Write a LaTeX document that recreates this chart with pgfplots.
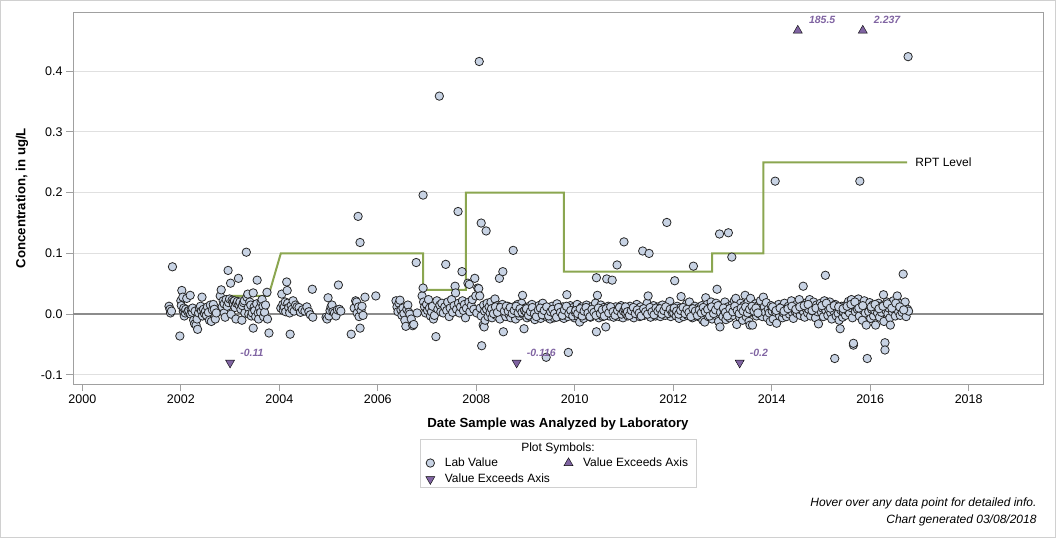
\documentclass[border=0pt]{standalone}
\usepackage{fontspec}
\setmainfont{Liberation Sans}
\usepackage{pgfplots}
\pgfplotsset{compat=1.18}

\definecolor{labfill}{RGB}{200,211,228}
\definecolor{exceed}{RGB}{128,100,162}
\definecolor{rptgreen}{RGB}{139,166,80}
\definecolor{gridgray}{RGB}{224,224,224}
\definecolor{framegray}{RGB}{160,160,160}
\definecolor{zerogray}{RGB}{140,140,140}
\definecolor{outergray}{RGB}{208,208,208}

\begin{document}
\begin{tikzpicture}
\begin{axis}[
  width=970pt, height=371.7pt, scale only axis,
  xmin=1999.81, xmax=2019.51, ymin=-0.115, ymax=0.497,
  axis line style={framegray, line width=1pt},
  xtick={2000,2002,...,2018},
  ytick={-0.1,0,0.1,0.2,0.3,0.4},
  tick pos=left, tick align=outside,
  major tick length=7pt,
  tick style={framegray, line width=1pt},
  ymajorgrids, grid style={gridgray, line width=1pt},
  /pgf/number format/assume math mode=true,
  xticklabel style={/pgf/number format/1000 sep={}, font=\fontsize{12.5}{14}\selectfont},
  yticklabel style={/pgf/number format/.cd, fixed, fixed zerofill, precision=1, /tikz/.cd, font=\fontsize{12.5}{14}\selectfont},
  xlabel={Date Sample was Analyzed by Laboratory},
  ylabel={Concentration, in ug/L},
  label style={font=\fontsize{13.2}{15}\selectfont\bfseries},
  xlabel style={at={(axis description cs:0.5,-0.1076)}, anchor=center},
  ylabel style={at={(axis description cs:-0.0525,0.5)}, anchor=center},
  legend columns=2,
  legend cell align=left,
  legend style={at={(0.5,-0.193)}, anchor=north, draw=none, fill=none,
    font=\fontsize{12}{14}\selectfont, inner sep=0pt,
    /tikz/row sep=2pt,
    /tikz/every odd column/.append style={column sep=8pt},
    /tikz/every even column/.append style={column sep=12pt}},
]

% reference line at zero
\addplot[forget plot, zerogray, line width=2pt] coordinates {(1999.81,0) (2019.51,0)};

% reporting level step line
\addplot[forget plot, rptgreen, line width=2pt] coordinates {
(2003.00,0.03) (2003.78,0.03) (2004.03,0.1) (2006.92,0.1) (2006.92,0.04)
(2007.79,0.04) (2007.79,0.2) (2009.78,0.2) (2009.78,0.07) (2012.79,0.07)
(2012.79,0.1) (2013.83,0.1) (2013.83,0.25) (2016.75,0.25)}
node[pos=1, anchor=west, xshift=4pt, text=black, font=\fontsize{12}{14}\selectfont] {RPT Level};

% laboratory values
\addplot[only marks, mark=*, mark size=4.2pt, mark options={fill=labfill, draw=black!85, line width=0.8pt}] coordinates {
(2001.76,0.013) (2001.78,0.008) (2001.79,0.002) (2001.81,0.005) (2001.83,0.078) (2001.98,-0.036)
(2002.00,0.022) (2002.01,0.014) (2002.02,0.039) (2002.04,0.028) (2002.05,0.005) (2002.06,0.010)
(2002.07,-0.003) (2002.09,0.002) (2002.10,0.008) (2002.12,0.026) (2002.14,0.004) (2002.16,0.006)
(2002.19,0.031) (2002.20,0.000) (2002.21,0.008) (2002.23,0.003) (2002.24,0.010) (2002.26,-0.010)
(2002.28,-0.016) (2002.29,0.005) (2002.31,-0.018) (2002.34,-0.025) (2002.33,-0.008) (2002.36,0.002)
(2002.43,0.028) (2002.38,0.010) (2002.40,0.013) (2002.42,0.005) (2002.44,-0.003) (2002.46,0.008)
(2002.48,0.001) (2002.50,0.005) (2002.52,-0.002) (2002.54,0.012) (2002.56,0.003) (2002.58,-0.010)
(2002.60,0.015) (2002.62,-0.012) (2002.64,0.007) (2002.66,0.016) (2002.68,0.008) (2002.70,-0.008)
(2002.72,0.002)
(2002.80,0.030) (2002.82,0.040) (2002.84,0.012) (2002.86,0.022) (2002.88,0.017) (2002.88,0.002)
(2002.90,-0.005) (2002.92,0.024) (2002.94,0.013) (2002.96,0.072) (2002.97,0.019) (2002.99,0.025)
(2003.01,0.051) (2003.02,0.000) (2003.04,0.023) (2003.06,0.020) (2003.07,0.016) (2003.09,0.022)
(2003.10,0.011) (2003.12,-0.008) (2003.13,0.018) (2003.15,0.021) (2003.17,0.059) (2003.18,0.015)
(2003.20,0.020) (2003.22,0.008) (2003.24,-0.010) (2003.25,0.014) (2003.27,0.019) (2003.29,0.022)
(2003.30,0.002) (2003.33,0.102) (2003.34,0.028) (2003.36,0.033) (2003.37,0.011) (2003.38,0.000)
(2003.40,0.020) (2003.42,0.015) (2003.43,-0.003) (2003.45,0.002) (2003.47,0.035) (2003.47,-0.023)
(2003.49,0.012) (2003.50,0.006) (2003.52,-0.004) (2003.54,0.017) (2003.55,0.056) (2003.57,0.002)
(2003.58,-0.008) (2003.60,0.010) (2003.62,0.003) (2003.63,0.020) (2003.65,0.024) (2003.67,0.013)
(2003.68,-0.004) (2003.70,0.003) (2003.72,0.015) (2003.75,0.036) (2003.76,-0.008) (2003.79,-0.031)
(2004.03,0.010) (2004.05,0.033) (2004.07,0.016) (2004.08,0.006) (2004.10,0.012) (2004.12,0.020)
(2004.13,0.004) (2004.15,0.053) (2004.16,0.039) (2004.17,0.018) (2004.19,0.011) (2004.21,0.002)
(2004.22,-0.033) (2004.24,0.014) (2004.26,0.008) (2004.28,0.022) (2004.30,0.005) (2004.33,0.015)
(2004.36,0.012) (2004.40,0.011) (2004.43,0.003) (2004.47,0.007) (2004.52,0.005) (2004.56,0.012)
(2004.60,0.004) (2004.63,-0.001) (2004.67,0.041) (2004.68,-0.005)
(2004.95,-0.005) (2004.97,-0.008) (2004.99,0.027) (2005.01,-0.003) (2005.03,0.006) (2005.05,0.012)
(2005.07,0.015) (2005.09,0.004) (2005.12,0.002) (2005.15,-0.003) (2005.18,0.007) (2005.20,0.048)
(2005.22,0.008) (2005.25,0.005) (2005.46,-0.033)
(2005.52,0.010) (2005.55,0.022) (2005.57,0.020) (2005.58,0.002) (2005.60,0.161) (2005.61,0.012)
(2005.62,-0.004) (2005.64,0.118) (2005.64,-0.023) (2005.66,0.006) (2005.68,0.013) (2005.70,-0.002)
(2005.74,0.028) (2005.96,0.030)
(2006.37,0.022) (2006.39,0.012) (2006.41,0.004) (2006.43,0.018) (2006.45,0.023) (2006.47,0.007)
(2006.49,-0.002) (2006.51,0.010) (2006.53,0.001) (2006.55,-0.010) (2006.57,-0.020) (2006.59,0.008)
(2006.61,0.015) (2006.63,0.003) (2006.65,0.000) (2006.68,-0.008) (2006.71,-0.019) (2006.73,-0.017)
(2006.78,0.085) (2006.80,0.002)
(2006.90,0.030) (2006.92,0.196) (2006.92,0.043) (2006.93,0.020) (2006.95,0.012) (2006.97,0.002)
(2006.99,0.016) (2007.01,0.006) (2007.03,0.024) (2007.05,0.010) (2007.07,-0.003) (2007.09,0.004)
(2007.11,0.013) (2007.13,-0.008) (2007.15,-0.002) (2007.18,-0.037) (2007.20,0.022) (2007.22,0.008)
(2007.25,0.359) (2007.26,0.015) (2007.28,0.004) (2007.30,0.018) (2007.33,0.002) (2007.36,0.012)
(2007.38,0.082) (2007.40,0.006) (2007.42,0.020) (2007.45,-0.004) (2007.47,0.010) (2007.50,0.024)
(2007.52,0.003) (2007.55,0.014) (2007.57,0.046) (2007.58,0.035) (2007.60,0.008) (2007.63,0.169)
(2007.64,0.018) (2007.66,0.002) (2007.68,0.012) (2007.71,0.070) (2007.72,0.022) (2007.74,0.006)
(2007.76,0.016) (2007.78,-0.006) (2007.80,0.010) (2007.83,0.051) (2007.85,0.020) (2007.86,0.049)
(2007.87,0.004) (2007.90,0.014) (2007.92,0.024) (2007.95,0.008) (2007.97,0.059) (2007.99,0.030)
(2008.01,0.002) (2008.03,0.043) (2008.05,0.042) (2008.06,0.416) (2008.07,0.030) (2008.08,0.010)
(2008.10,0.150) (2008.10,-0.003) (2008.11,-0.052) (2008.14,-0.018) (2008.16,-0.021) (2008.15,0.015)
(2008.17,0.005) (2008.18,-0.010) (2008.20,0.137) (2008.21,0.008) (2008.22,0.018) (2008.24,-0.004)
(2008.26,0.012) (2008.28,0.002) (2008.30,0.020) (2008.32,-0.006) (2008.34,0.010) (2008.36,0.004)
(2008.38,0.025) (2008.40,-0.002) (2008.42,0.014) (2008.44,0.006) (2008.47,0.059) (2008.48,-0.008)
(2008.50,0.008) (2008.54,0.070) (2008.53,0.016) (2008.55,-0.029) (2008.56,0.002) (2008.58,0.010)
(2008.60,-0.004) (2008.62,0.006) (2008.64,0.013) (2008.66,0.000) (2008.68,0.008) (2008.70,-0.006)
(2008.72,0.004) (2008.75,0.105) (2008.76,0.012) (2008.78,0.002) (2008.80,-0.008) (2008.82,0.010)
(2008.84,0.016) (2008.86,0.004) (2008.88,-0.003) (2008.90,0.006) (2008.92,0.018) (2008.94,0.031)
(2008.95,0.000) (2008.97,-0.024) (2008.99,0.010)
(2008.31,0.009) (2008.35,0.001) (2008.39,0.012) (2008.43,0.003) (2008.49,0.011) (2008.57,0.005)
(2008.61,0.013) (2008.65,0.005) (2008.69,0.011) (2008.73,0.001) (2008.77,0.006) (2008.81,0.013)
(2008.85,0.002) (2008.89,0.009) (2008.93,0.003) (2008.98,0.006)
(2009.01,0.004) (2009.03,-0.006) (2009.05,0.012) (2009.07,0.002) (2009.09,-0.004) (2009.11,0.008)
(2009.13,0.016) (2009.15,-0.002) (2009.17,0.006) (2009.19,-0.009) (2009.21,0.003) (2009.23,0.010)
(2009.25,-0.003) (2009.27,0.014) (2009.29,0.001) (2009.31,-0.007) (2009.33,0.007) (2009.35,0.018)
(2009.37,-0.002) (2009.39,0.004) (2009.41,0.011) (2009.42,-0.071) (2009.44,-0.005) (2009.46,0.002)
(2009.48,0.009) (2009.50,-0.008) (2009.52,0.005) (2009.54,0.013) (2009.56,0.000) (2009.58,-0.006)
(2009.60,0.007) (2009.62,0.003) (2009.64,0.017) (2009.66,-0.004) (2009.68,0.006) (2009.70,0.010)
(2009.72,-0.002) (2009.74,0.004) (2009.76,0.012) (2009.78,-0.007) (2009.80,0.002) (2009.82,0.008)
(2009.84,0.032) (2009.86,-0.004) (2009.87,-0.063) (2009.89,0.006) (2009.91,0.014) (2009.93,-0.001)
(2009.95,0.005) (2009.97,0.011) (2009.99,-0.006)
(2009.02,0.009) (2009.06,-0.002) (2009.10,0.004) (2009.14,0.011) (2009.18,0.001) (2009.22,-0.004)
(2009.26,0.007) (2009.30,0.010) (2009.34,-0.001) (2009.38,0.006) (2009.43,0.012) (2009.47,-0.003)
(2009.51,0.004) (2009.55,0.008) (2009.59,0.001) (2009.63,-0.005) (2009.67,0.011) (2009.71,0.003)
(2009.75,-0.002) (2009.79,0.007) (2009.83,0.013) (2009.88,0.001) (2009.92,0.006) (2009.96,-0.003)
(2010.01,0.003) (2010.03,0.009) (2010.05,0.016) (2010.07,-0.004) (2010.09,0.006) (2010.10,-0.013)
(2010.12,0.001) (2010.14,0.012) (2010.16,0.004) (2010.18,-0.007) (2010.20,0.008) (2010.22,0.002)
(2010.24,0.015) (2010.26,-0.002) (2010.28,0.006) (2010.30,0.010) (2010.32,-0.005) (2010.34,0.003)
(2010.36,0.013) (2010.38,0.000) (2010.40,0.007) (2010.42,0.018) (2010.44,0.060) (2010.44,-0.029)
(2010.46,0.031) (2010.47,0.004) (2010.49,-0.006) (2010.51,0.009) (2010.53,0.015) (2010.55,0.002)
(2010.57,-0.004) (2010.59,0.011) (2010.61,0.006) (2010.63,-0.021) (2010.65,0.058) (2010.66,0.003)
(2010.68,0.013) (2010.70,-0.003) (2010.72,0.007) (2010.74,0.001) (2010.76,0.056) (2010.77,0.010)
(2010.79,-0.005) (2010.81,0.004) (2010.83,0.012) (2010.85,0.000) (2010.86,0.081) (2010.88,0.008)
(2010.90,-0.004) (2010.92,0.005) (2010.94,0.014) (2010.96,0.002) (2010.98,-0.006) (2011.00,0.119)
(2010.02,0.006) (2010.06,0.001) (2010.11,0.009) (2010.15,-0.003) (2010.19,0.005) (2010.23,0.011)
(2010.27,0.002) (2010.31,-0.004) (2010.35,0.008) (2010.39,0.003) (2010.43,-0.002) (2010.48,0.010)
(2010.52,0.001) (2010.56,0.007) (2010.60,-0.003) (2010.64,0.009) (2010.69,0.002) (2010.73,0.012)
(2010.78,0.004) (2010.82,-0.002) (2010.87,0.006) (2010.91,0.011) (2010.95,0.000) (2010.99,0.005)
(2011.02,0.007) (2011.04,0.001) (2011.06,0.011) (2011.08,-0.003) (2011.10,0.005) (2011.12,0.013)
(2011.14,-0.001) (2011.16,0.008) (2011.18,0.003) (2011.20,-0.006) (2011.22,0.010) (2011.24,0.004)
(2011.26,0.016) (2011.28,0.000) (2011.30,0.007) (2011.32,-0.004) (2011.34,0.012) (2011.36,0.002)
(2011.38,0.104) (2011.39,0.006) (2011.41,-0.002) (2011.43,0.010) (2011.45,0.003) (2011.47,0.018)
(2011.49,0.030) (2011.51,0.100) (2011.52,0.005) (2011.54,-0.005) (2011.56,0.009) (2011.58,0.002)
(2011.60,0.014) (2011.62,0.006) (2011.64,-0.003) (2011.66,0.008) (2011.68,0.001) (2011.70,0.012)
(2011.72,0.004) (2011.74,-0.004) (2011.76,0.007) (2011.78,0.015) (2011.80,0.002) (2011.82,0.009)
(2011.84,-0.002) (2011.86,0.005) (2011.87,0.151) (2011.89,0.012) (2011.91,0.003) (2011.93,0.021)
(2011.95,-0.004) (2011.97,0.006) (2011.99,0.010)
(2011.03,0.012) (2011.07,0.004) (2011.11,-0.002) (2011.15,0.006) (2011.19,0.011) (2011.23,0.001)
(2011.27,0.007) (2011.31,0.002) (2011.35,-0.003) (2011.40,0.009) (2011.44,0.004) (2011.48,0.000)
(2011.53,0.011) (2011.57,0.004) (2011.61,-0.001) (2011.65,0.010) (2011.69,0.005) (2011.73,0.009)
(2011.77,0.000) (2011.81,0.006) (2011.85,0.012) (2011.90,0.001) (2011.94,0.008) (2011.98,0.002)
(2012.01,0.002) (2012.03,0.055) (2012.04,0.008) (2012.06,-0.003) (2012.08,0.013) (2012.10,0.004)
(2012.12,-0.007) (2012.14,0.010) (2012.16,0.029) (2012.17,0.001) (2012.19,0.007) (2012.21,-0.004)
(2012.23,0.012) (2012.25,0.003) (2012.27,0.017) (2012.29,-0.002) (2012.31,0.006) (2012.33,0.020)
(2012.35,0.000) (2012.37,0.009) (2012.39,-0.006) (2012.41,0.079) (2012.42,0.004) (2012.44,0.013)
(2012.46,-0.003) (2012.48,0.007) (2012.50,0.002) (2012.52,0.011) (2012.54,-0.005) (2012.56,0.005)
(2012.58,0.014) (2012.60,-0.010) (2012.62,0.008) (2012.64,-0.013) (2012.66,0.027) (2012.67,0.003)
(2012.69,0.016) (2012.71,-0.004) (2012.73,0.010) (2012.75,0.001) (2012.77,0.020) (2012.79,-0.008)
(2012.81,0.006) (2012.83,0.013) (2012.85,-0.002) (2012.87,0.018) (2012.89,0.041) (2012.90,0.004)
(2012.92,-0.012) (2012.94,0.132) (2012.95,-0.021) (2012.97,0.009) (2012.99,0.015)
(2012.02,0.010) (2012.07,0.005) (2012.11,0.000) (2012.15,0.006) (2012.20,0.011) (2012.24,0.001)
(2012.28,0.008) (2012.32,0.003) (2012.36,-0.004) (2012.40,0.009) (2012.45,0.005) (2012.49,-0.002)
(2012.53,0.007) (2012.57,0.002) (2012.61,0.011) (2012.65,0.004) (2012.70,0.008) (2012.74,-0.003)
(2012.78,0.012) (2012.82,0.001) (2012.86,0.007) (2012.91,0.014) (2012.96,0.003)
(2013.01,-0.004) (2013.03,0.007) (2013.05,0.020) (2013.07,-0.009) (2013.09,0.002) (2013.11,0.012)
(2013.12,0.134) (2013.14,-0.006) (2013.16,0.005) (2013.19,0.094) (2013.20,0.016) (2013.22,-0.002)
(2013.24,0.022) (2013.26,0.008) (2013.27,0.026) (2013.29,-0.017) (2013.31,0.003) (2013.33,0.012)
(2013.35,-0.005) (2013.37,0.018) (2013.39,0.006) (2013.41,-0.010) (2013.43,0.014) (2013.45,0.002)
(2013.46,0.031) (2013.48,-0.004) (2013.50,0.009) (2013.52,0.020) (2013.54,-0.012) (2013.56,-0.018)
(2013.57,0.026) (2013.59,0.004) (2013.61,-0.018) (2013.63,0.011) (2013.65,0.002) (2013.67,0.017)
(2013.69,-0.003) (2013.71,0.008) (2013.73,0.014) (2013.75,0.000) (2013.77,0.022) (2013.79,0.006)
(2013.81,-0.004) (2013.83,0.028) (2013.85,0.012) (2013.87,0.003)
(2013.02,0.010) (2013.06,0.003) (2013.10,-0.003) (2013.15,0.009) (2013.21,0.004) (2013.25,0.013)
(2013.30,0.006) (2013.34,0.001) (2013.38,0.010) (2013.42,0.005) (2013.47,0.012) (2013.51,0.002)
(2013.55,0.008) (2013.60,0.013) (2013.64,0.005) (2013.68,0.010) (2013.72,0.002)
(2013.89,0.019) (2013.91,-0.006) (2013.93,0.008) (2013.95,0.002) (2013.97,-0.012) (2013.99,0.014)
(2014.01,0.005) (2014.03,-0.008) (2014.05,0.010) (2014.07,0.219) (2014.08,0.003) (2014.10,-0.015)
(2014.12,0.008) (2014.14,0.016) (2014.16,-0.003) (2014.18,0.006) (2014.20,0.012) (2014.22,-0.006)
(2014.24,0.002) (2014.26,0.018) (2014.28,0.009) (2014.30,-0.004) (2014.32,0.005) (2014.34,0.013)
(2014.36,0.000) (2014.38,0.008) (2014.40,0.022) (2014.42,0.003) (2014.44,-0.007) (2014.46,0.011)
(2014.48,0.004) (2014.50,0.016) (2014.52,0.001) (2014.54,0.009) (2014.56,0.024) (2014.58,-0.002)
(2014.60,0.007) (2014.62,0.014) (2014.64,0.046) (2014.65,0.003) (2014.67,-0.005) (2014.69,0.010)
(2014.71,0.019) (2014.73,0.002) (2014.75,0.008) (2014.77,0.024) (2014.79,-0.003) (2014.81,0.012)
(2014.83,0.005) (2014.85,0.020) (2014.87,0.009) (2014.89,-0.006) (2014.91,0.015) (2014.93,0.004)
(2014.95,-0.016) (2014.97,0.011) (2014.99,0.018)
(2014.02,0.012) (2014.09,0.006) (2014.17,0.010) (2014.25,0.005) (2014.33,0.009) (2014.41,0.013)
(2014.49,0.008) (2014.57,0.012) (2014.66,0.014) (2014.74,0.016) (2014.82,0.006) (2014.90,0.010)
(2015.01,0.003) (2015.03,0.010) (2015.05,-0.004) (2015.07,0.022) (2015.09,0.064) (2015.10,0.006)
(2015.12,0.014) (2015.14,-0.002) (2015.16,0.008) (2015.18,0.020) (2015.20,0.002) (2015.22,-0.008)
(2015.24,0.012) (2015.26,0.005) (2015.28,-0.073) (2015.29,0.016) (2015.31,-0.003) (2015.33,0.009)
(2015.35,0.001) (2015.37,-0.010) (2015.39,-0.024) (2015.40,0.007) (2015.42,0.013) (2015.44,-0.005)
(2015.46,0.003) (2015.48,0.010) (2015.50,-0.002) (2015.52,0.015) (2015.54,0.006) (2015.56,0.021)
(2015.58,0.002) (2015.60,0.011) (2015.62,0.024) (2015.64,-0.006) (2015.66,-0.051) (2015.66,-0.048)
(2015.68,0.013) (2015.70,0.004) (2015.72,0.020) (2015.74,0.008) (2015.76,0.025) (2015.78,-0.003)
(2015.79,0.219) (2015.80,0.010) (2015.82,0.017) (2015.84,-0.010) (2015.86,0.006) (2015.88,0.022)
(2015.90,0.002) (2015.92,-0.018) (2015.94,-0.073) (2015.95,0.012) (2015.97,0.004) (2015.99,0.019)
(2015.02,0.014) (2015.11,0.018) (2015.19,0.010) (2015.27,0.014) (2015.36,0.012) (2015.45,0.009)
(2015.53,0.013) (2015.61,0.016) (2015.69,0.020) (2015.77,0.010) (2015.85,0.014)
(2016.01,-0.007) (2016.03,0.008) (2016.05,0.015) (2016.07,-0.003) (2016.09,0.006) (2016.11,-0.018)
(2016.13,0.011) (2016.15,0.002) (2016.17,0.018) (2016.19,-0.005) (2016.21,0.009) (2016.23,0.003)
(2016.25,0.014) (2016.27,0.032) (2016.28,-0.012) (2016.30,-0.047) (2016.30,-0.059) (2016.32,0.006)
(2016.34,0.020) (2016.36,0.001) (2016.38,0.010) (2016.40,-0.006) (2016.41,-0.018) (2016.43,0.015)
(2016.45,0.004) (2016.47,0.022) (2016.49,0.008) (2016.51,-0.003) (2016.53,0.012) (2016.55,0.030)
(2016.57,0.005) (2016.59,0.018) (2016.61,-0.002) (2016.63,0.010) (2016.65,0.003) (2016.67,0.066)
(2016.69,0.013) (2016.71,0.020) (2016.73,-0.004) (2016.76,0.008) (2016.77,0.424) (2016.78,0.005)
(2016.02,0.012) (2016.10,0.016) (2016.18,0.009) (2016.26,0.013) (2016.35,0.017) (2016.44,0.010)
(2016.52,0.018) (2016.60,0.012) (2016.68,0.007)
};
\addlegendentry{Lab Value}

% values above the top of the axis
\addplot[only marks, mark=triangle*, mark size=5.2pt, mark options={fill=exceed, draw=none},
  nodes near coords, point meta=explicit symbolic,
  every node near coord/.append style={anchor=south west, inner sep=0pt, xshift=11pt, yshift=7pt,
    text=exceed, font=\fontsize{10.5}{12}\selectfont\bfseries\itshape}]
  coordinates {(2014.53,0.467) [185.5] (2015.85,0.467) [2.237]};
\addlegendentry{Value Exceeds Axis}

% values below the bottom of the axis
\addplot[only marks, mark=triangle*, mark size=5.2pt, mark options={fill=exceed, draw=none, rotate=180},
  nodes near coords, point meta=explicit symbolic,
  every node near coord/.append style={anchor=south west, inner sep=0pt, xshift=10pt, yshift=6pt,
    text=exceed, font=\fontsize{10.5}{12}\selectfont\bfseries\itshape}]
  coordinates {(2003.00,-0.080) [-0.11] (2008.82,-0.080) [-0.116] (2013.35,-0.080) [-0.2]};
\addlegendentry{Value Exceeds Axis}
\end{axis}

% legend frame and heading
\draw[outergray, line width=1pt] (347.7pt,-55pt) rectangle (623pt,-103pt);
\node[font=\fontsize{12}{14}\selectfont] at (485pt,-64pt) {Plot Symbols:};

% footnotes
\node[anchor=east, font=\fontsize{12}{14}\selectfont\itshape] at (967pt,-119pt) {Hover over any data point for detailed info.};
\node[anchor=east, font=\fontsize{12}{14}\selectfont\itshape] at (967pt,-136pt) {Chart generated 03/08/2018};

% outer frame
\pgfresetboundingbox
\draw[outergray, line width=1pt] (-72.5pt,-153.5pt) rectangle (982.5pt,383.5pt);
\useasboundingbox (-73pt,-154pt) rectangle (983pt,384pt);
\end{tikzpicture}
\end{document}
